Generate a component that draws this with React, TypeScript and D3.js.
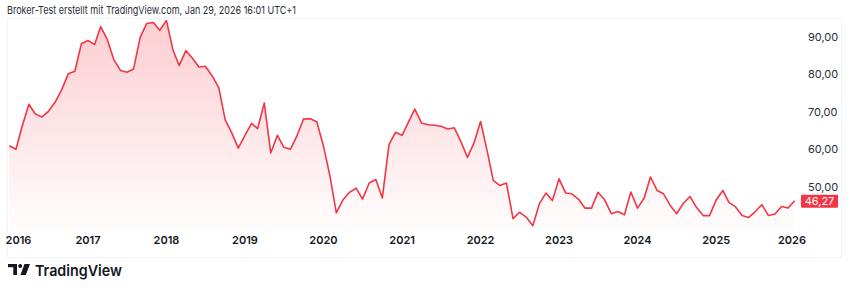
import React from "react";
import * as d3 from "d3";

const startYear = 2016;
const values: number[] = [
  // 2016
  60.9, 60.0, 66.1, 72.0, 69.4, 68.6, 70.1, 72.5, 75.9, 80.1, 80.8, 88.1,
  // 2017
  89.0, 87.9, 92.7, 89.2, 83.9, 81.0, 80.5, 81.4, 89.9, 93.5, 93.8, 91.7,
  // 2018
  94.3, 86.3, 82.3, 86.3, 84.3, 81.9, 82.1, 79.6, 76.5, 67.9, 64.3, 60.3,
  // 2019
  63.7, 66.9, 65.5, 72.3, 59.0, 63.7, 60.5, 60.0, 63.7, 68.1, 68.1, 67.3,
  // 2020
  60.9, 52.7, 43.0, 46.5, 48.5, 49.6, 46.7, 51.0, 51.9, 47.0, 61.2, 64.5,
  // 2021
  63.7, 67.4, 70.7, 67.0, 66.5, 66.4, 66.1, 65.4, 65.7, 62.1, 57.8, 61.6,
  // 2022
  67.4, 59.4, 51.7, 50.3, 51.0, 41.5, 43.2, 41.9, 39.6, 45.4, 48.3, 46.3,
  // 2023
  52.1, 48.3, 48.1, 46.7, 44.3, 44.3, 48.5, 46.5, 42.8, 43.4, 42.5, 48.6,
  // 2024
  44.3, 47.0, 52.6, 49.0, 48.1, 45.0, 42.8, 45.6, 47.4, 44.5, 42.3, 42.3,
  // 2025
  46.5, 49.0, 45.8, 44.6, 42.3, 41.8, 43.3, 45.2, 42.3, 42.7, 44.7, 44.3,
  // 2026
  46.27,
];
const yearTicks: number[] = [2016, 2017, 2018, 2019, 2020, 2021, 2022, 2023, 2024, 2025, 2026];
const priceTicks: number[] = [90, 80, 70, 60, 50];
const headerText = "Broker-Test erstellt mit TradingView.com, Jan 29, 2026 16:01 UTC+1";
const lastLabel = "46,27";

const RED = "#f23645";
const FONT = "Inter, 'Noto Sans', Roboto, sans-serif";

export default function App() {
  const dates = values.map((_, i) => new Date(startYear, i, 1));
  const x = d3
    .scaleTime()
    .domain([new Date(2016, 0, 1), new Date(2026, 0, 1)])
    .range([9.3, 794.7]);
  const y = d3.scaleLinear().domain([90, 50]).range([36.7, 186.7]);
  const plotTop = 19;
  const plotBottom = 231;

  const data = values.map((v, i) => ({ d: dates[i], v }));
  const line = d3
    .line<{ d: Date; v: number }>()
    .x((p) => x(p.d))
    .y((p) => y(p.v));
  const area = d3
    .area<{ d: Date; v: number }>()
    .x((p) => x(p.d))
    .y0(plotBottom)
    .y1((p) => y(p.v));

  const fmt = (v: number) => v.toFixed(2).replace(".", ",");
  const last = values[values.length - 1];
  const lastY = y(last);

  return (
    <svg
      width={850}
      height={293}
      style={{ position: "absolute", left: 0, top: 0, background: "#fff" }}
      fontFamily={FONT}
    >
      <defs>
        <linearGradient id="fillGrad" gradientUnits="userSpaceOnUse" x1={0} y1={plotTop} x2={0} y2={plotBottom}>
          <stop offset="0%" stopColor={RED} stopOpacity={0.25} />
          <stop offset="100%" stopColor={RED} stopOpacity={0.01} />
        </linearGradient>
      </defs>
      <rect x={0} y={0} width={850} height={293} fill="#fff" />
      <text x={7} y={14} fontSize={11} fill="#2a2e39" textLength={289} lengthAdjust="spacingAndGlyphs">
        {headerText}
      </text>
      {/* frame */}
      <rect x={7.5} y={18.5} width={834} height={239} fill="none" stroke="#f0f3fa" strokeWidth={1} />

      <path d={area(data) || ""} fill="url(#fillGrad)" />
      <path d={line(data) || ""} fill="none" stroke={RED} strokeWidth={1.6} strokeLinejoin="round" />

      {/* price axis */}
      {priceTicks.map((t) => (
        <text key={t} x={808} y={y(t) + 4} fontSize={11} fill="#2a2e39">
          {fmt(t)}
        </text>
      ))}
      <rect x={801} y={lastY - 6} width={37} height={13} fill={RED} rx={1} />
      <text x={819.5} y={lastY + 4} fontSize={11} fill="#fff" textAnchor="middle">
        {lastLabel}
      </text>

      {/* time axis */}
      {yearTicks.map((yr) => {
        const cx = Math.max(18.5, Math.min(792, x(new Date(yr, 0, 1))));
        return (
          <text key={yr} x={cx} y={244} fontSize={11} fontWeight={600} fill="#131722" textAnchor="middle">
            {yr}
          </text>
        );
      })}

      {/* logo */}
      <g transform="translate(8,264)">
        <path d="M0 0H9V11H5.3V3.3H0Z" fill="#131722" />
        <circle cx={12.2} cy={2} r={2} fill="#131722" />
        <path d="M16.5 0H22L17.8 11H12.4Z" fill="#131722" />
      </g>
      <text x={35} y={276} fontSize={15} fontWeight={600} fill="#131722" textLength={87} lengthAdjust="spacingAndGlyphs">
        TradingView
      </text>
    </svg>
  );
}
